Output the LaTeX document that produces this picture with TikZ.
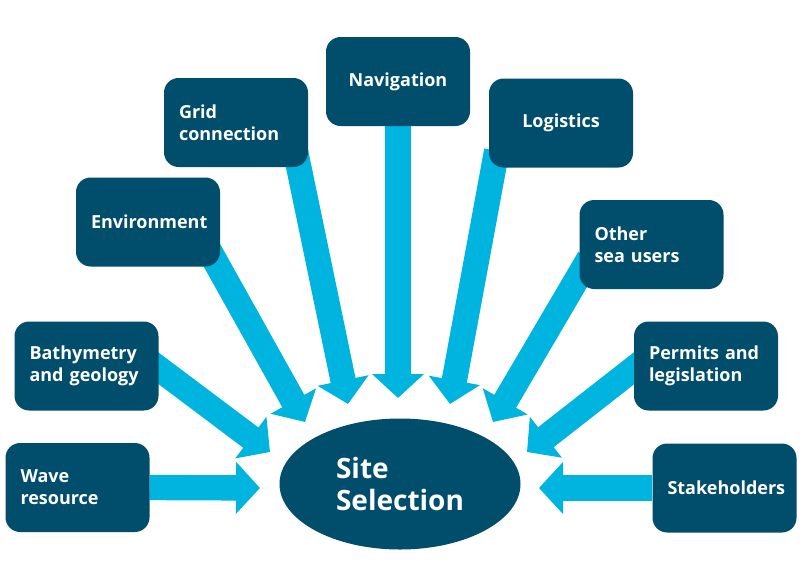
\documentclass[tikz,border=0pt]{standalone}
\usepackage{fontspec}
\setmainfont{Open Sans}
\usetikzlibrary{arrows.meta,shapes.geometric,backgrounds}
\definecolor{boxblue}{HTML}{004D6C}
\definecolor{arrowblue}{HTML}{00B4E0}
\begin{document}
\begin{tikzpicture}[x=0.75pt, y=-0.75pt,
        factor/.style={fill=boxblue, rounded corners=11pt, inner xsep=11.25pt, text width=85.5pt, minimum height=66.75pt, align=left, text=white, font=\bfseries\fontsize{13.5}{16.5}\selectfont},
        single/.style={factor, align=center},
        feed/.style={draw=arrowblue, line width=19pt, -{Triangle[width=38pt, length=18pt]}}]
        \useasboundingbox (0,0) rectangle (800,565);

        % factors round the site
        \node[factor] (wave) at (77.5,487.5) {Wave\\resource};
        \node[factor] (bathy) at (86.5,366) {Bathymetry\\and geology};
        \node[single] (env) at (148,222) {Environment};
        \node[factor] (grid) at (236,122.5) {Grid\\connection};
        \node[single] (nav) at (398,81.5) {Navigation};
        \node[single] (logistics) at (561,123) {Logistics};
        \node[factor] (other) at (651.5,244.5) {Other\\sea users};
        \node[factor] (permits) at (706,366) {Permits and\\legislation};
        \node[single] (stake) at (724.5,488) {Stakeholders};

        \node[ellipse, fill=boxblue, minimum width=180.75pt, minimum height=98.25pt, align=left, text=white, font=\bfseries\fontsize{21}{24}\selectfont] (site) at (400,484) {Site\\Selection};

        % arrow tips, short of the ellipse
        \coordinate (wavetip) at (260,488);
        \coordinate (bathytip) at (270,452);
        \coordinate (envtip) at (305,422);
        \coordinate (gridtip) at (348,404);
        \coordinate (navtip) at (398,398);
        \coordinate (logisticstip) at (450,404);
        \coordinate (othertip) at (493,422);
        \coordinate (permitstip) at (527,452);
        \coordinate (staketip) at (539,488);

        \begin{scope}[on background layer]
            \draw[feed] (wave.east) -- (wavetip);
            \draw[feed] ([shift={(-18,-11)}]bathy.east) -- (bathytip);
            \draw[feed] ([shift={(-12,-18)}]env.south east) -- (envtip);
            \draw[feed] ([shift={(-13,-17)}]grid.south east) -- (gridtip);
            \draw[feed] (nav.center) -- (navtip);
            \draw[feed] ([shift={(8,-17)}]logistics.south west) -- (logisticstip);
            \draw[feed] ([shift={(10,-31)}]other.south west) -- (othertip);
            \draw[feed] ([shift={(16,-10)}]permits.west) -- (permitstip);
            \draw[feed] (stake.west) -- (staketip);
        \end{scope}
    \end{tikzpicture}
\end{document}
